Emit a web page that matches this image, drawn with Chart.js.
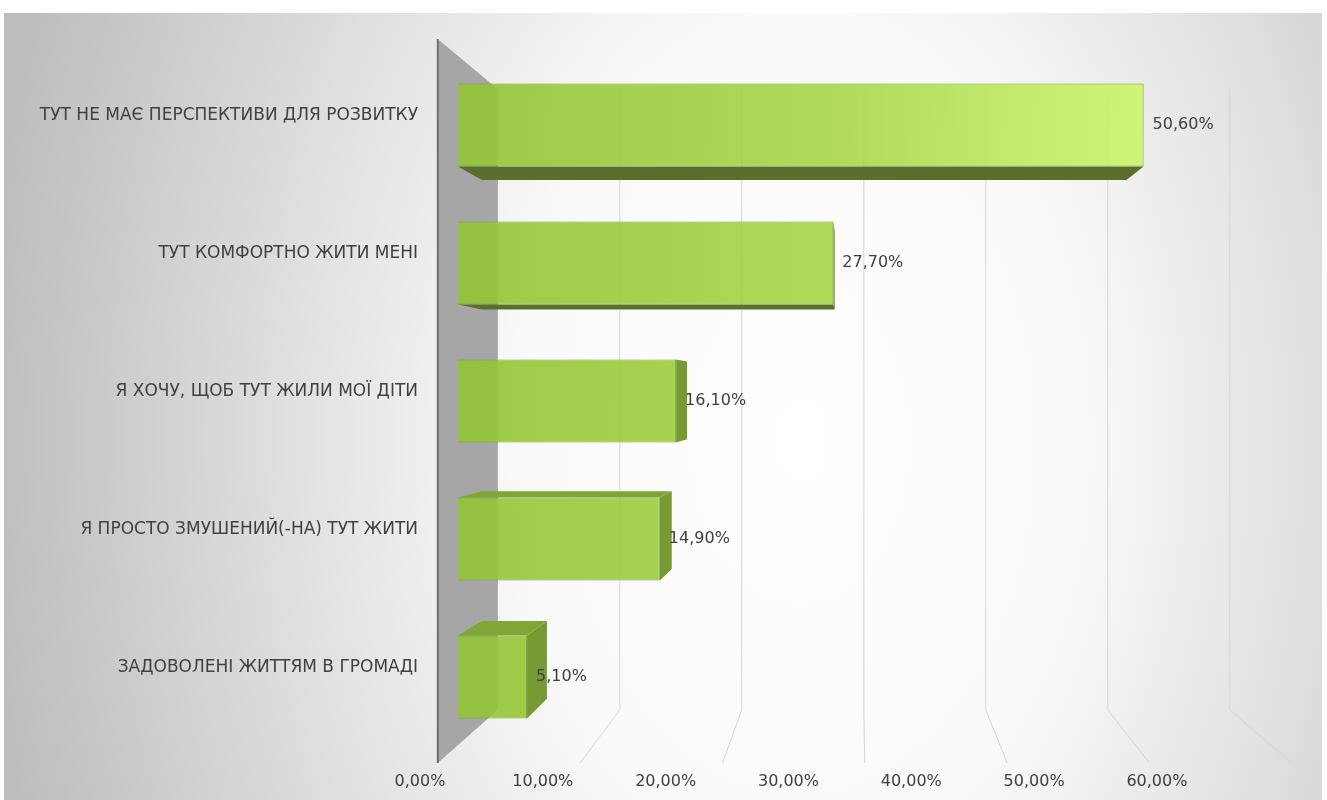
<!DOCTYPE html>
<html>
<head>
<meta charset="utf-8">
<script src="https://cdn.jsdelivr.net/npm/chart.js@4.4.0/dist/chart.umd.min.js"></script>
<style>
  body { margin: 0; background: #fff; }
  #wrap { width: 1327px; height: 800px; }
</style>
</head>
<body>
<div id="wrap"><canvas id="barChart" width="1327" height="800"></canvas></div>
<script>
const categories = [
  "ТУТ НЕ МАЄ ПЕРСПЕКТИВИ ДЛЯ РОЗВИТКУ",
  "ТУТ КОМФОРТНО ЖИТИ МЕНІ",
  "Я ХОЧУ, ЩОБ ТУТ ЖИЛИ МОЇ ДІТИ",
  "Я ПРОСТО ЗМУШЕНИЙ(-НА) ТУТ ЖИТИ",
  "ЗАДОВОЛЕНІ ЖИТТЯМ В ГРОМАДІ"
];
const values = [50.6, 27.7, 16.1, 14.9, 5.1];
const tickValues = [0, 10, 20, 30, 40, 50, 60];

const fontFamily = "'DejaVu Sans', sans-serif";
const textColor = "#404040";

// perspective of the fake 3d box (vanishing point + depth factors)
const vp = { x: 858, y: 391 };
const kBar = 0.94;    // back face of a bar
const kWall = 0.857;  // back wall
const kFace = 0.952;  // bar front face relative to the floor front edge

function fmt(v) {
  return v.toFixed(2).replace(".", ",") + "%";
}

function proj(px, py, k) {
  return { x: vp.x + k * (px - vp.x), y: vp.y + k * (py - vp.y) };
}

function poly(ctx, pts, fill) {
  ctx.beginPath();
  ctx.moveTo(pts[0].x, pts[0].y);
  for (let i = 1; i < pts.length; i++) ctx.lineTo(pts[i].x, pts[i].y);
  ctx.closePath();
  ctx.fillStyle = fill;
  ctx.fill();
}

const background = {
  id: "background",
  beforeDraw(chart) {
    const ctx = chart.ctx;
    ctx.save();
    ctx.fillStyle = "#ffffff";
    ctx.fillRect(0, 0, chart.width, chart.height);
    ctx.beginPath();
    ctx.rect(4, 13, chart.width - 9, chart.height - 13);
    ctx.clip();
    // elliptical light spot, stretched vertically
    ctx.translate(800, 440);
    ctx.scale(1, 1.5);
    const g = ctx.createRadialGradient(0, 0, 0, 0, 0, 820);
    g.addColorStop(0, "#ffffff");
    g.addColorStop(0.35, "#f9f9f9");
    g.addColorStop(1, "#bdbdbd");
    ctx.fillStyle = g;
    ctx.fillRect(-820, -600, 1640, 1200);
    ctx.restore();
  }
};

const box3d = {
  id: "box3d",
  beforeDatasetsDraw(chart) {
    const ctx = chart.ctx;
    const x = chart.scales.x;
    const area = chart.chartArea;
    const floorX = v => vp.x + (x.getPixelForValue(v) - vp.x) / kFace;
    const wallTop = area.top - 17;
    const floorY = area.bottom + 17;
    const backTop = proj(0, wallTop, kWall).y;

    ctx.save();
    // gridlines: back wall verticals + floor slants
    ctx.strokeStyle = "#d6d6d6";
    ctx.lineWidth = 1;
    tickValues.slice(1).forEach(v => {
      const fx = floorX(v);
      const b = proj(fx, floorY, kWall);
      ctx.beginPath();
      ctx.moveTo(fx, floorY);
      ctx.lineTo(b.x, b.y);
      ctx.lineTo(b.x, backTop);
      ctx.stroke();
    });

    // left wall
    const w0 = floorX(0);
    const wt = proj(w0, wallTop, kWall);
    const wb = proj(w0, floorY, kWall);
    poly(ctx, [{ x: w0, y: wallTop }, wt, wb, { x: w0, y: floorY }], "#a6a6a6");
    ctx.strokeStyle = "#6f6f6f";
    ctx.lineWidth = 2;
    ctx.beginPath();
    ctx.moveTo(w0, wallTop);
    ctx.lineTo(w0, floorY);
    ctx.stroke();

    // visible side faces of every bar
    chart.getDatasetMeta(0).data.forEach(bar => {
      const p = bar.getProps(["x", "y", "base", "height"], true);
      const L = p.base, R = p.x, T = p.y - p.height / 2, B = p.y + p.height / 2;
      const lt = proj(L, T, kBar), rt = proj(R, T, kBar);
      const lb = proj(L, B, kBar), rb = proj(R, B, kBar);
      if (B < vp.y) {
        poly(ctx, [{ x: L, y: B }, { x: R, y: B }, rb, lb], "#5a6f2c");
      }
      if (T > vp.y) {
        poly(ctx, [{ x: L, y: T }, { x: R, y: T }, rt, lt], "#7fa637");
      }
      if (R < vp.x) {
        poly(ctx, [{ x: R, y: T }, { x: R, y: B }, rb, rt], "#789a34");
      }
    });
    ctx.restore();
  },
  afterDatasetsDraw(chart) {
    const ctx = chart.ctx;
    ctx.save();
    ctx.font = "16px " + fontFamily;
    ctx.fillStyle = textColor;
    ctx.textAlign = "left";
    ctx.textBaseline = "middle";
    chart.getDatasetMeta(0).data.forEach((bar, i) => {
      const p = bar.getProps(["x", "y"], true);
      ctx.fillText(fmt(values[i]), p.x + 9, p.y);
    });
    ctx.restore();
  }
};

function faceColor(context) {
  const chart = context.chart;
  const x = chart.scales.x;
  if (!x || !chart.chartArea) return "#9ecd40";
  const g = chart.ctx.createLinearGradient(x.getPixelForValue(0), 0, x.getPixelForValue(Math.max(...values)), 0);
  g.addColorStop(0, "rgba(146,196,52,0.9)");
  g.addColorStop(0.55, "rgba(168,214,72,0.9)");
  g.addColorStop(1, "rgba(204,246,108,0.9)");
  return g;
}

new Chart(document.getElementById("barChart"), {
  type: "bar",
  data: {
    labels: categories,
    datasets: [{
      data: values,
      backgroundColor: faceColor,
      borderColor: "#7ca532",
      borderWidth: 1,
      categoryPercentage: 1,
      barPercentage: 0.6
    }]
  },
  options: {
    indexAxis: "y",
    responsive: false,
    animation: false,
    layout: { padding: { top: 56, right: 35, bottom: 10, left: 0 } },
    plugins: {
      legend: { display: false },
      tooltip: { enabled: false }
    },
    scales: {
      x: { type: "linear", min: -2.8, max: 61.55, display: false },
      xLab: {
        type: "linear",
        position: "bottom",
        min: 0,
        max: 71,
        afterBuildTicks: s => { s.ticks = tickValues.map(v => ({ value: v })); },
        afterFit: s => { s.height = 44; },
        grid: { display: false, drawTicks: false },
        border: { display: false },
        ticks: {
          padding: 26,
          color: textColor,
          autoSkip: false,
          maxRotation: 0,
          font: { family: fontFamily, size: 16 },
          callback: v => fmt(v)
        }
      },
      y: {
        grid: { display: false, drawTicks: false },
        border: { display: false },
        afterFit: s => { s.width = 420; },
        ticks: {
          padding: 2,
          labelOffset: -9,
          color: textColor,
          font: { family: fontFamily, size: 17 }
        }
      }
    }
  },
  plugins: [background, box3d]
});
</script>
</body>
</html>
